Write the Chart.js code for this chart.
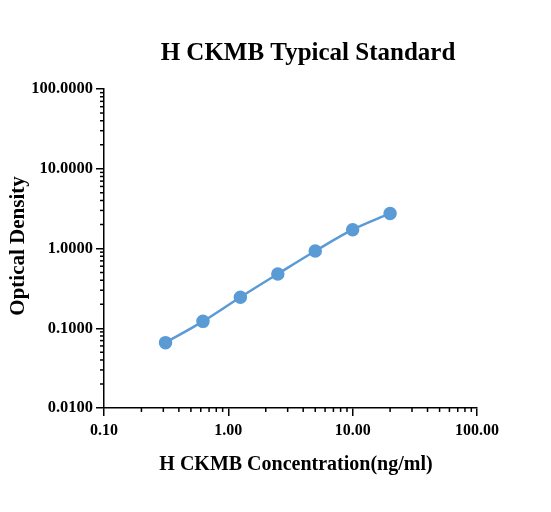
<!DOCTYPE html>
<html><head><script src="https://cdn.jsdelivr.net/npm/chart.js@4"></script>
<style>body{margin:0;background:#fff}</style></head>
<body><div style="width:551px;height:512px"><canvas id="c"></canvas></div>
<script>
const concentrations=[0.3125,0.625,1.25,2.5,5,10,20];
const odValues=[0.066,0.122,0.245,0.48,0.93,1.72,2.75];
const xTicks=[0.1,1,10,100];
const yTicks=[0.01,0.1,1,10,100];
const F='"Liberation Serif", serif';
const deco={id:'deco',afterDraw(ch){
 const c=ch.ctx,x=ch.scales.x,y=ch.scales.y;
 c.save();c.strokeStyle='#000';c.lineWidth=1.5;
 for(let d=0;d<3;d++)for(let k=2;k<10;k++){const px=x.getPixelForValue(k*xTicks[d]);c.beginPath();c.moveTo(px,y.bottom);c.lineTo(px,y.bottom+4);c.stroke();}
 for(let d=0;d<4;d++)for(let k=2;k<10;k++){const py=y.getPixelForValue(k*yTicks[d]);c.beginPath();c.moveTo(x.left,py);c.lineTo(x.left-4,py);c.stroke();}
 c.fillStyle='#000';c.textAlign='center';c.textBaseline='middle';
 c.font='bold 25px '+F;c.fillText('H CKMB Typical Standard',308,54);
 c.font='bold 20px '+F;c.fillText('H CKMB Concentration(ng/ml)',296,465);
 c.translate(19,246);c.rotate(-Math.PI/2);c.font='bold 21px '+F;c.fillText('Optical Density',0,0);
 c.restore();}};
new Chart(document.getElementById('c'),{type:'line',
 data:{datasets:[{data:concentrations.map((v,i)=>({x:v,y:odValues[i]})),borderColor:'#5b9bd5',backgroundColor:'#5b9bd5',borderWidth:2.5,pointRadius:5.5,pointHoverRadius:5.5,cubicInterpolationMode:'monotone'}]},
 options:{responsive:true,maintainAspectRatio:false,animation:false,
  layout:{padding:{top:89,right:74,left:0,bottom:0}},
  plugins:{legend:{display:false},tooltip:{enabled:false}},
  scales:{
   x:{type:'logarithmic',min:0.1,max:100,afterBuildTicks:s=>{s.ticks=xTicks.map(v=>({value:v}))},
    afterFit:s=>{s.height=104},
    ticks:{callback:v=>Number(v).toFixed(2),color:'#000',font:{family:F,weight:'bold',size:16},maxRotation:0,padding:5},
    grid:{drawOnChartArea:false,color:'#000',tickLength:8,lineWidth:1.5},border:{color:'#000',width:1.5}},
   y:{type:'logarithmic',min:0.01,max:100,afterBuildTicks:s=>{s.ticks=yTicks.map(v=>({value:v}))},
    afterFit:s=>{s.width=104},
    ticks:{callback:v=>Number(v).toFixed(4),color:'#000',font:{family:F,weight:'bold',size:16.5},padding:3},
    grid:{drawOnChartArea:false,color:'#000',tickLength:8,lineWidth:1.5},border:{color:'#000',width:1.5}}}},
 plugins:[deco]});
</script></body></html>
